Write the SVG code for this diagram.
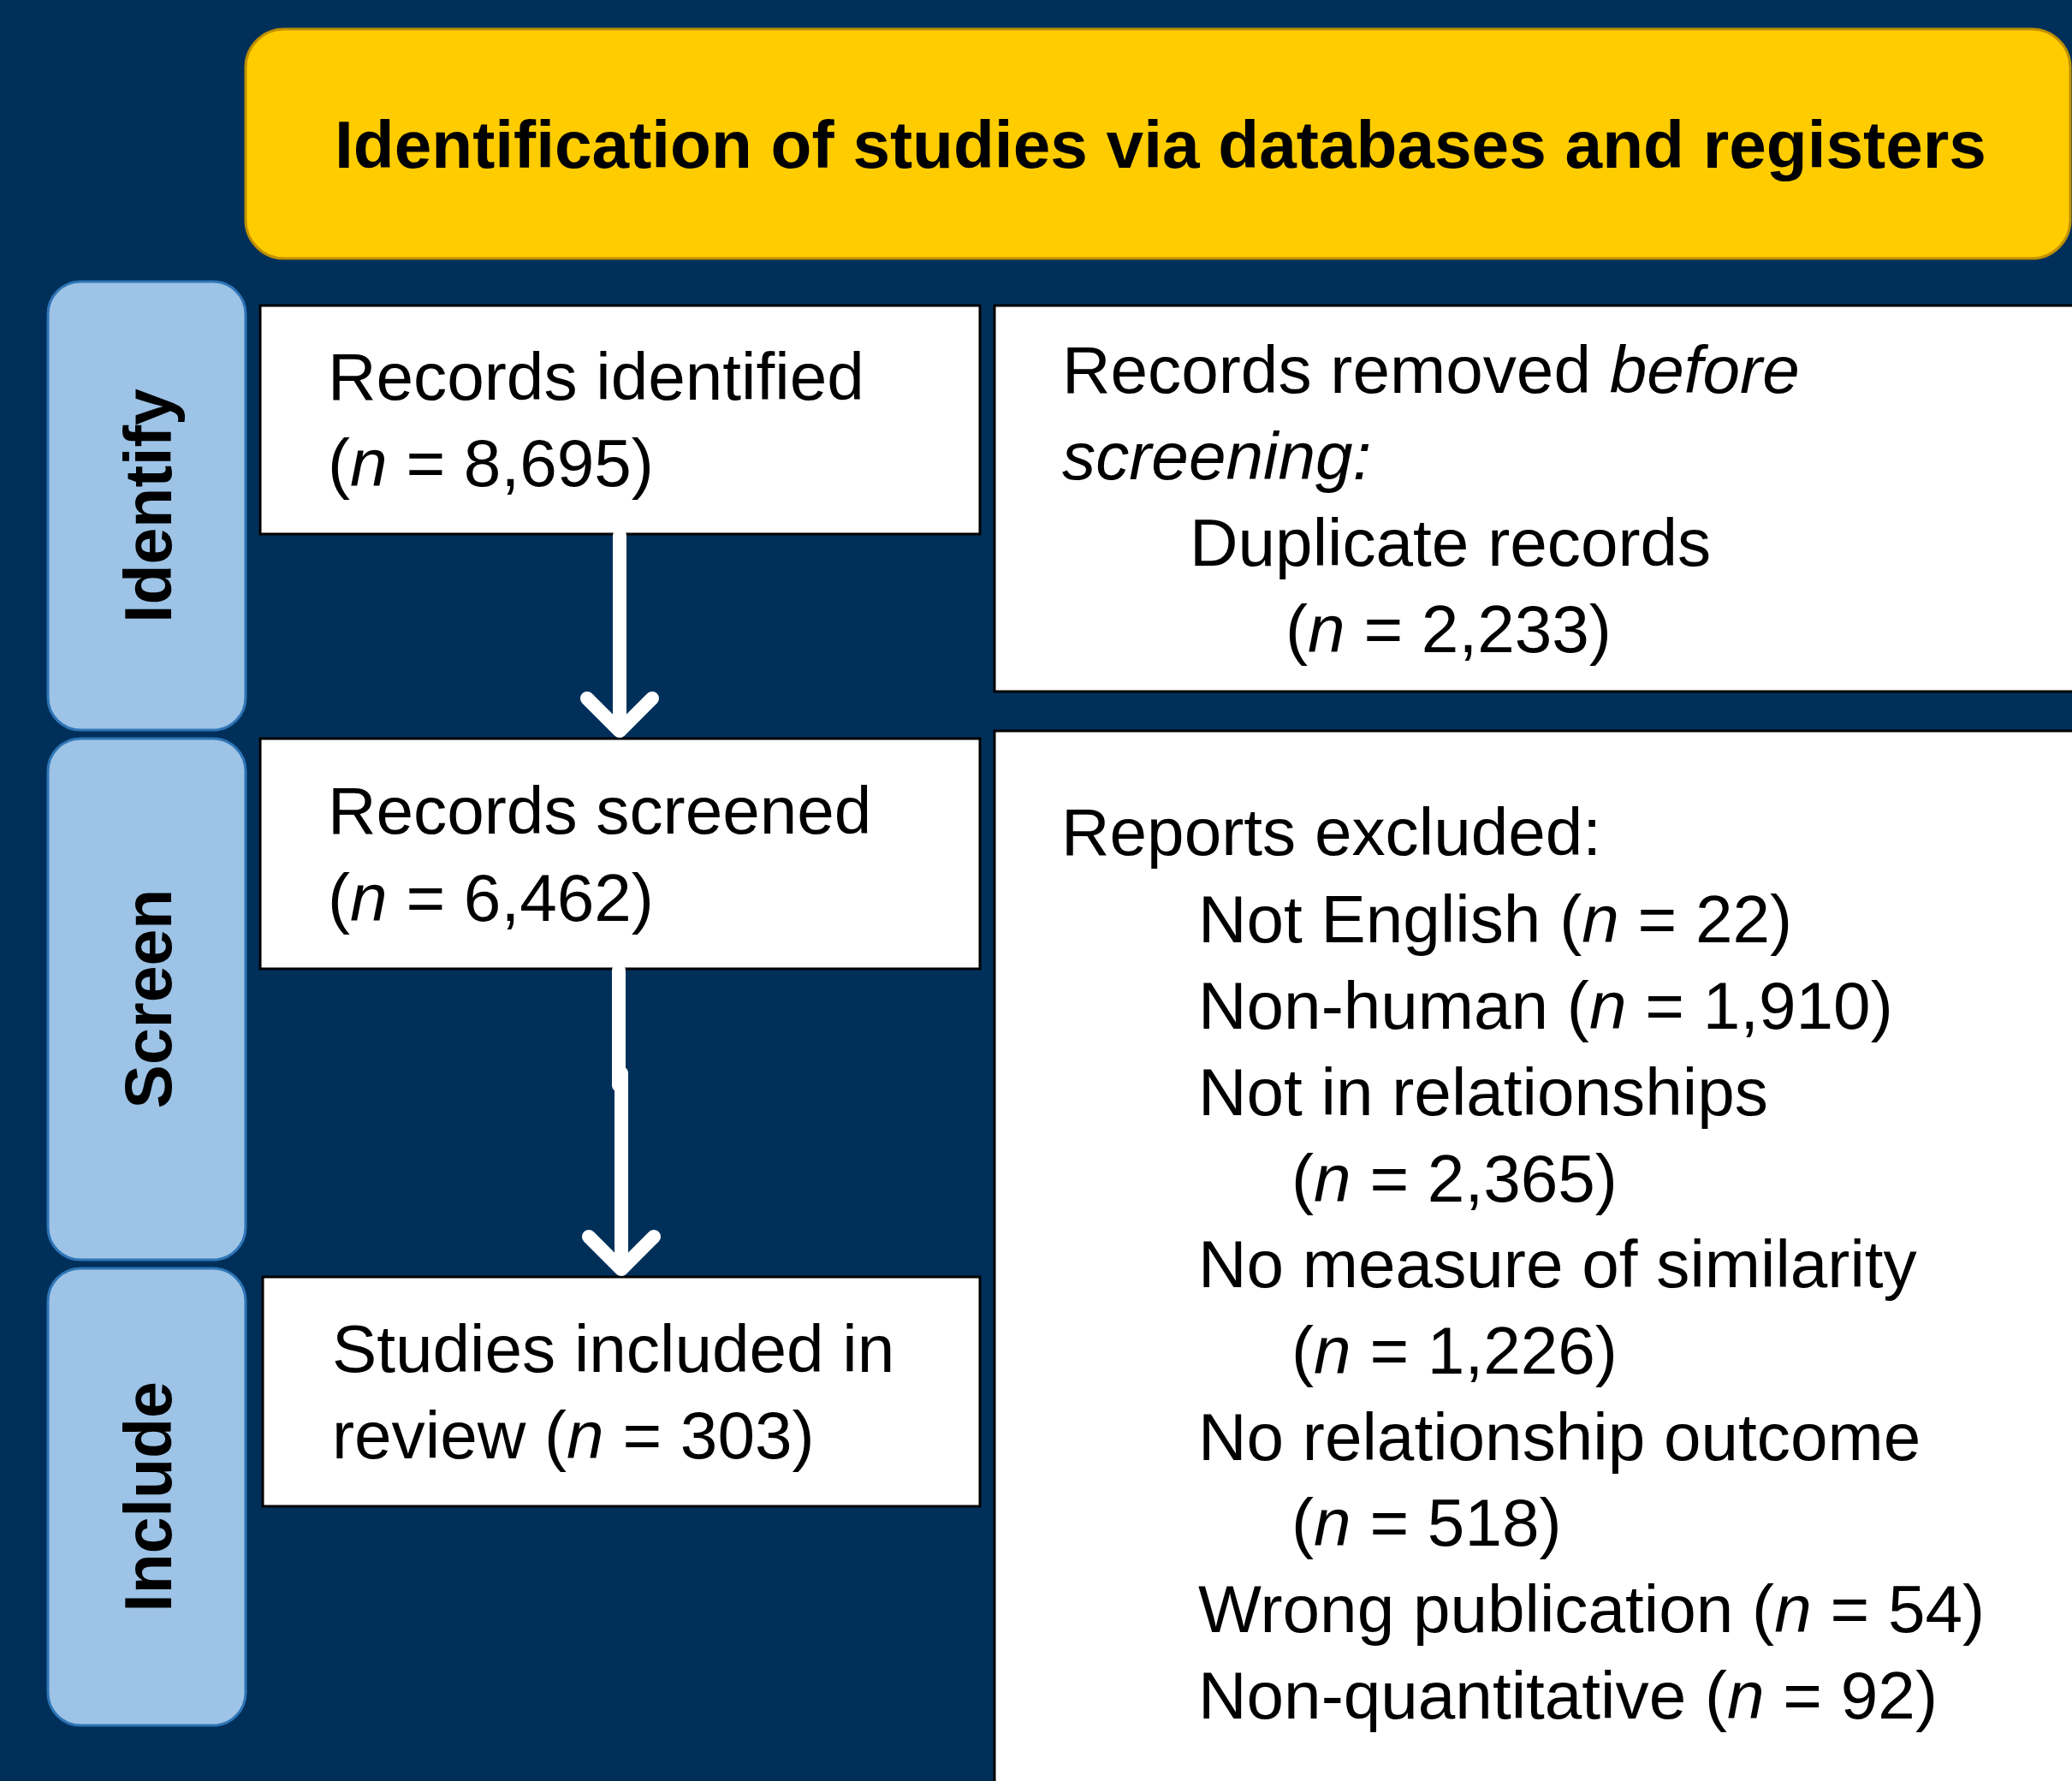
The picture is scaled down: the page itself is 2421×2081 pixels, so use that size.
<svg xmlns="http://www.w3.org/2000/svg" width="2421" height="2081" viewBox="0 0 2421 2081">
<style>
.bg{fill:#00305A}
.hdr{fill:#FFCC00;stroke:#BF9000;stroke-width:3}
.lane{fill:#9DC3E6;stroke:#2E75B6;stroke-width:3}
.box{fill:#FFFFFF;stroke:#000000;stroke-width:3}
.t{font-family:"Liberation Sans",Arial,sans-serif;font-size:78.3px;fill:#000}
.hb{font-family:"Liberation Sans",Arial,sans-serif;font-size:78.4px;font-weight:bold;fill:#000}
.lb{font-family:"Liberation Sans",Arial,sans-serif;font-size:77px;font-weight:bold;fill:#000}
.i{font-style:italic}
.arr{fill:none;stroke:#FFFFFF;stroke-width:16;stroke-linecap:round;stroke-linejoin:round}
</style>
<rect class="bg" x="0" y="0" width="2421" height="2081"/>
<g id="header">
<rect class="hdr" x="287" y="34" width="2132" height="268" rx="45" ry="45"/>
<text class="hb" x="1356" y="196" text-anchor="middle">Identification of studies via databases and registers</text>
</g>
<g id="lane-identify">
<rect class="lane" x="56" y="329" width="231" height="524" rx="38" ry="38"/>
<text class="lb" transform="translate(200,591) rotate(-90)" text-anchor="middle">Identify</text>
</g>
<g id="lane-screen">
<rect class="lane" x="56" y="863" width="231" height="609" rx="38" ry="38"/>
<text class="lb" transform="translate(200,1167) rotate(-90)" text-anchor="middle">Screen</text>
</g>
<g id="lane-include">
<rect class="lane" x="56" y="1482" width="231" height="534" rx="38" ry="38"/>
<text class="lb" transform="translate(200,1749) rotate(-90)" text-anchor="middle">Include</text>
</g>
<g id="records-identified">
<rect class="box" x="304" y="357" width="841" height="267"/>
<text class="t" x="383" y="467">Records identified</text>
<text class="t" x="383" y="568">(<tspan class="i">n</tspan> = 8,695)</text>
</g>
<g id="records-removed">
<rect class="box" x="1162" y="357" width="1270" height="451"/>
<text class="t" x="1241" y="459">Records removed <tspan class="i">before</tspan></text>
<text class="t i" x="1241" y="560">screening:</text>
<text class="t" x="1390" y="661">Duplicate records</text>
<text class="t" x="1502" y="762">(<tspan class="i">n</tspan> = 2,233)</text>
</g>
<g id="records-screened">
<rect class="box" x="304" y="863" width="841" height="269"/>
<text class="t" x="383" y="974">Records screened</text>
<text class="t" x="383" y="1076">(<tspan class="i">n</tspan> = 6,462)</text>
</g>
<g id="reports-excluded">
<rect class="box" x="1162" y="854" width="1270" height="1240"/>
<text class="t" x="1240" y="999">Reports excluded:</text>
<text class="t" x="1400" y="1101">Not English (<tspan class="i">n</tspan> = 22)</text>
<text class="t" x="1400" y="1202">Non-human (<tspan class="i">n</tspan> = 1,910)</text>
<text class="t" x="1400" y="1303">Not in relationships</text>
<text class="t" x="1509" y="1404">(<tspan class="i">n</tspan> = 2,365)</text>
<text class="t" x="1400" y="1504">No measure of similarity</text>
<text class="t" x="1509" y="1605">(<tspan class="i">n</tspan> = 1,226)</text>
<text class="t" x="1400" y="1706">No relationship outcome</text>
<text class="t" x="1509" y="1806">(<tspan class="i">n</tspan> = 518)</text>
<text class="t" x="1400" y="1907">Wrong publication (<tspan class="i">n</tspan> = 54)</text>
<text class="t" x="1400" y="2008">Non-quantitative (<tspan class="i">n</tspan> = 92)</text>
</g>
<g id="studies-included">
<rect class="box" x="307" y="1492" width="838" height="268"/>
<text class="t" x="388" y="1603">Studies included in</text>
<text class="t" x="388" y="1704">review (<tspan class="i">n</tspan> = 303)</text>
</g>
<g id="connectors">
<path class="arr" d="M724 626 V852"/>
<path class="arr" d="M686 816 L724 854 L762 816"/>
<path class="arr" d="M723 1134 V1268"/>
<path class="arr" d="M726 1254 V1480"/>
<path class="arr" d="M688 1445 L726 1483 L764 1445"/>
</g>
</svg>
